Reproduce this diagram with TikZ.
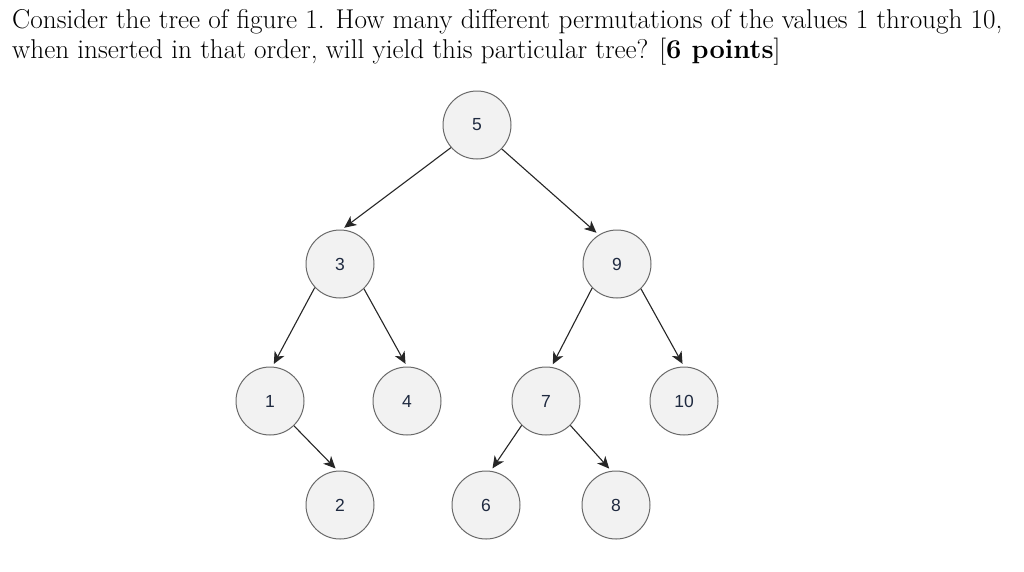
\documentclass[tikz,border=0pt]{standalone}
\usepackage{fontspec}
\newfontfamily\labelfont{Liberation Sans}
\usetikzlibrary{arrows.meta}
\definecolor{nodefill}{HTML}{F2F2F2}
\definecolor{nodeborder}{HTML}{6A6A6A}
\definecolor{numcol}{HTML}{1F2A40}
\begin{document}
\begin{tikzpicture}[x=1pt,y=-1pt,
  tnode/.style={circle,draw=nodeborder,line width=1pt,fill=nodefill,minimum size=68pt,inner sep=0pt,font=\labelfont\fontsize{17.5}{17.5}\selectfont,text=numcol},
  edge/.style={draw=black!85,line width=1.1pt,shorten >=3pt,-{Stealth[length=12pt,width=11pt,inset=3.5pt]}},
  qtext/.style={anchor=base west,inner sep=0pt,font=\fontsize{27.2}{30}\selectfont}]
\useasboundingbox[fill=white] (0,0) rectangle (1024,571);
\node[qtext] (l1) at (12,28) {Consider the tree of figure 1. How many different permutations of the values 1 through 10,};
\node[qtext] (l2) at (12,58) {when inserted in that order, will yield this particular tree? [\textbf{6 points}]};
\node[tnode] (n5) at (477,125) {5};
\node[tnode] (n3) at (340,264) {3};
\node[tnode] (n9) at (617,264) {9};
\node[tnode] (n1) at (270,401) {1};
\node[tnode] (n4) at (407,401) {4};
\node[tnode] (n7) at (546,401) {7};
\node[tnode] (n10) at (684,401) {10};
\node[tnode] (n2) at (340,505) {2};
\node[tnode] (n6) at (486,505) {6};
\node[tnode] (n8) at (616,505) {8};
\draw[edge] (n5.221) -- (n3.87);
\draw[edge] (n5.316) -- (n9.122);
\draw[edge] (n3.223) -- (n1.86);
\draw[edge] (n3.314) -- (n4.90);
\draw[edge] (n9.224) -- (n7.81);
\draw[edge] (n9.314) -- (n10.90);
\draw[edge] (n1.314) -- (n2.94);
\draw[edge] (n7.225) -- (n6.82);
\draw[edge] (n7.315) -- (n8.98);
\end{tikzpicture}
\end{document}
